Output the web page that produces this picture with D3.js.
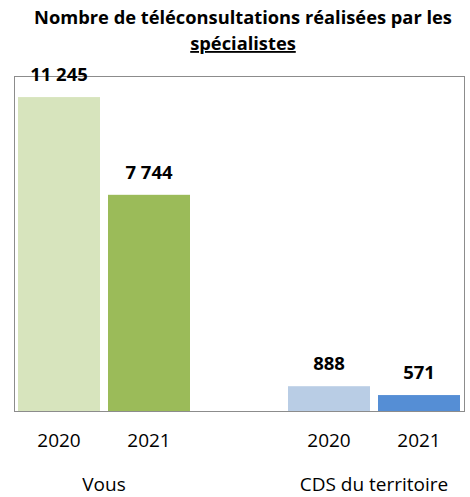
<!DOCTYPE html>
<html>
<head>
<meta charset="utf-8">
<title></title>
<script src="https://cdn.jsdelivr.net/npm/d3@7"></script>
<style>
  body { margin: 0; background: #fff; }
  text { font-family: "Open Sans", sans-serif; fill: #000; }
</style>
</head>
<body>
<div id="chart"></div>
<script>
var groups = ["Vous", "CDS du territoire"];
var years = ["2020", "2021"];
var vousValues = [11245, 7744];
var cdsValues = [888, 571];
var barColors = ["#D7E4BD", "#9BBB59", "#B9CDE5", "#558ED5"];

function drawChart() {
    var bars = [];
    years.forEach(function(y, i) { bars.push({key: "V" + y, year: y, value: vousValues[i]}); });
    years.forEach(function(y, i) { bars.push({key: "C" + y, year: y, value: cdsValues[i]}); });

    var svg = d3.select("#chart").append("svg")
        .attr("width", 470)
        .attr("height", 497);

    var plotLeft = 14, plotRight = 464, plotTop = 76, plotBottom = 411;

    var x = d3.scaleBand()
        .domain(["V2020", "V2021", "gap", "C2020", "C2021"])
        .range([plotLeft, plotRight])
        .paddingInner(8 / 90)
        .paddingOuter(4 / 90);

    var y = d3.scaleLinear().domain([0, 12000]).range([plotBottom, plotTop]);

    var fmt = d3.formatLocale({decimal: ",", thousands: " ", grouping: [3], currency: ["", " €"]}).format(",d");

    // title
    svg.append("text")
        .attr("x", 243).attr("y", 24)
        .attr("text-anchor", "middle")
        .style("font-size", "18.3px").style("font-weight", "bold")
        .text("Nombre de téléconsultations réalisées par les");
    svg.append("text")
        .attr("x", 243).attr("y", 50)
        .attr("text-anchor", "middle")
        .style("font-size", "18.3px").style("font-weight", "bold")
        .style("text-decoration", "underline")
        .text("spécialistes");

    // plot frame
    svg.append("rect")
        .attr("x", plotLeft + 0.5).attr("y", plotTop + 0.5)
        .attr("width", plotRight - plotLeft).attr("height", plotBottom - plotTop)
        .attr("fill", "none").attr("stroke", "#8c8c8c").attr("stroke-width", 1);

    svg.selectAll(".bar")
        .data(bars)
      .enter().append("rect")
        .attr("class", "bar")
        .attr("x", function(d) { return x(d.key); })
        .attr("y", function(d) { return y(d.value); })
        .attr("width", x.bandwidth())
        .attr("height", function(d) { return plotBottom - y(d.value); })
        .attr("fill", function(d, i) { return barColors[i]; });

    svg.selectAll(".val")
        .data(bars)
      .enter().append("text")
        .attr("class", "val")
        .attr("x", function(d) { return x(d.key) + x.bandwidth() / 2; })
        .attr("y", function(d) { return y(d.value) - 16; })
        .attr("text-anchor", "middle")
        .style("font-size", "18.5px").style("font-weight", "bold")
        .text(function(d) { return fmt(d.value); });

    svg.selectAll(".yr")
        .data(bars)
      .enter().append("text")
        .attr("class", "yr")
        .attr("x", function(d) { return x(d.key) + x.bandwidth() / 2; })
        .attr("y", 447)
        .attr("text-anchor", "middle")
        .style("font-size", "19px")
        .text(function(d) { return d.year; });

    svg.selectAll(".grp")
        .data(groups)
      .enter().append("text")
        .attr("class", "grp")
        .attr("x", function(d, i) {
            var a = i === 0 ? "V" : "C";
            return (x(a + "2020") + x(a + "2021") + x.bandwidth()) / 2;
        })
        .attr("y", 491)
        .attr("text-anchor", "middle")
        .style("font-size", "19px")
        .text(function(d) { return d; });
}

drawChart();
</script>
</body>
</html>
